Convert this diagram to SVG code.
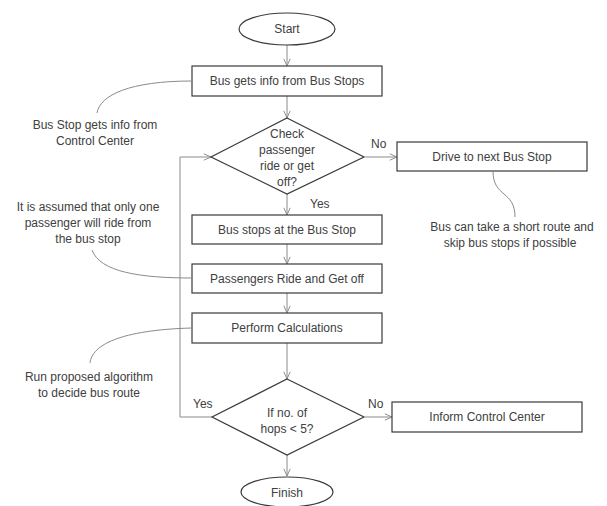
<svg xmlns="http://www.w3.org/2000/svg" width="607" height="506" viewBox="0 0 607 506">
<style>
  .node { fill: #ffffff; stroke: #3a3a3a; stroke-width: 1.2; }
  .conn { fill: none; stroke: #8a8a8a; stroke-width: 1; }
  .call { fill: none; stroke: #8a8a8a; stroke-width: 1; }
  text { font-family: "Liberation Sans", Arial, sans-serif; font-size: 12px; fill: #404040; }
  .c { text-anchor: middle; }
</style>
<defs>
  <marker id="arr" viewBox="0 0 10 10" refX="10" refY="5" markerWidth="8" markerHeight="8" orient="auto" markerUnits="userSpaceOnUse">
    <path d="M1,1 L10,5 L1,9" fill="none" stroke="#8a8a8a" stroke-width="1.2"/>
  </marker>
</defs>
<rect width="607" height="506" fill="#ffffff"/>

<g id="connectors">
  <path class="conn" d="M287,45 L287,66" marker-end="url(#arr)"/>
  <path class="conn" d="M287,96 L287,118" marker-end="url(#arr)"/>
  <path class="conn" d="M287,194 L287,215" marker-end="url(#arr)"/>
  <path class="conn" d="M287,244 L287,264" marker-end="url(#arr)"/>
  <path class="conn" d="M287,293 L287,313" marker-end="url(#arr)"/>
  <path class="conn" d="M287,343 L287,379" marker-end="url(#arr)"/>
  <path class="conn" d="M287,455 L287,476" marker-end="url(#arr)"/>
  <path class="conn" d="M365,157 L397,157" marker-end="url(#arr)"/>
  <path class="conn" d="M365,417 L392,417" marker-end="url(#arr)"/>
  <path class="conn" d="M212,417 L180,417 L180,157 L211,157" marker-end="url(#arr)"/>
  <text x="371" y="148">No</text>
  <text x="310" y="208">Yes</text>
  <text x="193" y="408">Yes</text>
  <text x="368" y="408">No</text>
</g>

<g id="start">
  <ellipse class="node" cx="287" cy="29" rx="48" ry="16"/>
  <text class="c" x="287" y="33">Start</text>
</g>
<g id="bus-gets-info">
  <rect class="node" x="192" y="66" width="190" height="30"/>
  <text class="c" x="287" y="85">Bus gets info from Bus Stops</text>
</g>
<g id="check-passenger">
  <polygon class="node" points="287,118 364,157 287,194 211,157"/>
  <text class="c" x="287" y="138">Check</text>
  <text class="c" x="287" y="154">passenger</text>
  <text class="c" x="287" y="170">ride or get</text>
  <text class="c" x="287" y="186">off?</text>
</g>
<g id="drive-next">
  <rect class="node" x="397" y="142" width="190" height="29"/>
  <text class="c" x="492" y="161">Drive to next Bus Stop</text>
</g>
<g id="bus-stops">
  <rect class="node" x="192" y="215" width="190" height="29"/>
  <text class="c" x="287" y="234">Bus stops at the Bus Stop</text>
</g>
<g id="passengers-ride">
  <rect class="node" x="192" y="264" width="190" height="29"/>
  <text class="c" x="287" y="283">Passengers Ride and Get off</text>
</g>
<g id="perform-calc">
  <rect class="node" x="192" y="313" width="190" height="30"/>
  <text class="c" x="287" y="332">Perform Calculations</text>
</g>
<g id="hops-check">
  <polygon class="node" points="287,379 364,417 287,455 212,417"/>
  <text class="c" x="287" y="417">If no. of</text>
  <text class="c" x="287" y="433">hops &lt; 5?</text>
</g>
<g id="inform-control">
  <rect class="node" x="392" y="402" width="190" height="30"/>
  <text class="c" x="487" y="421">Inform Control Center</text>
</g>
<g id="finish">
  <ellipse class="node" cx="287" cy="492" rx="46" ry="15"/>
  <text class="c" x="287" y="497">Finish</text>
</g>

<g id="callouts">
  <path class="call" d="M192,81 C130,81 100,95 97,113"/>
  <text class="c" x="95" y="129">Bus Stop gets info from</text>
  <text class="c" x="95" y="145">Control Center</text>

  <path class="call" d="M493,171 C493,198 515,190 515,217"/>
  <text class="c" x="512" y="231">Bus can take a short route and</text>
  <text class="c" x="510" y="247">skip bus stops if possible</text>

  <text class="c" x="88" y="211">It is assumed that only one</text>
  <text class="c" x="88" y="227">passenger will ride from</text>
  <text class="c" x="88" y="243">the bus stop</text>
  <path class="call" d="M92,250 C100,272 140,278 192,278"/>

  <path class="call" d="M192,328 C120,330 92,345 90,363"/>
  <text class="c" x="89" y="381">Run proposed algorithm</text>
  <text class="c" x="89" y="397">to decide bus route</text>
</g>
</svg>
